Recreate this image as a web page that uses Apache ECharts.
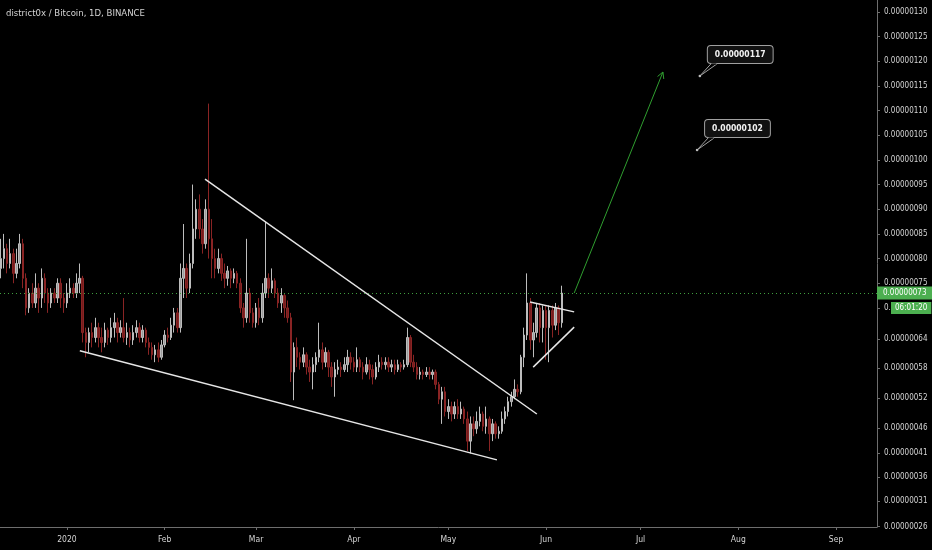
<!DOCTYPE html>
<html><head><meta charset="utf-8">
<script src="https://cdn.jsdelivr.net/npm/echarts@6/dist/echarts.min.js"></script>
<style>html,body{margin:0;padding:0;background:#000;}#chart{width:932px;height:550px;}</style>
</head><body><div id="chart"></div>
<script>
// ---- data (prices in satoshi = 1e-8 BTC) ----
const title = 'district0x / Bitcoin, 1D, BINANCE';
const firstDay = '2019-12-11';
const firstOpen = 78;
const closes = [
  80,82,79,81,77,79,83,76,70,73,
  71,74,72,76,73,71,73,72,75,72,
  71,73,74,73,75,76,65,63,65,64,
  66,64,63,65.5,64,66,67,65,66,64,
  65,63.5,65,66,64,65.5,63,62,60.5,61.5,
  60,62.5,64.5,64,66.5,69,66,76,78,74,
  79,86,90,86,83,90,84,80,78,80,
  77,76,77.5,76,77,75,70,68,73,69,
  67,70,68,73,76,74,75.5,73,71,72.5,
  70,68,57,62,60,59,60.5,58,57,58.5,
  60,61.5,59,61,58,56,57.5,58,57.5,58.5,
  60,59,58,59.5,58,57,58.5,57.5,56,58,
  59,58.5,59,58,58.5,57.5,58.5,58,58.5,64,
  59,58,56.5,57,56.5,57,56.5,57,54.5,51.5,
  53,49,50,48.5,50,48.5,49.5,47.5,43,46.5,
  45.5,47,48.5,46,47.5,44.5,46.5,44.5,45,47.5,
  49,51,52,53.5,53,60,64.5,71,63.5,65,
  70,66,69.5,66,69.5,66.5,70,67,73
];
const highs = [
  84,85,83,84,82,82,85,84,77,74,
  75,77,75,78,77,74,74,74,76,76,
  73,75,76,75,77,79,76.5,66,66,67,
  68,67,66,67,66,68,69,68,67.5,72,
  67,66,66.5,67.5,67,66.5,66,64,63,62.5,
  63,63.5,65.5,66,68,70,70,79,87,79,
  81,95,92,93,88,92,111.4,88,82,82,
  81,79,78.5,78,78,77.5,76,71,84,74,
  70,71,72,75,87.5,77,78,76,74,74,
  73,71.5,69,63,64,61,62,61,59.5,60,
  61,67,63,62,61.5,59,59,59.5,59,60,
  61.5,61,60,62,60,59,60,59.5,58.5,59,
  60.5,60,60,60,59.5,59.5,59.5,59,59.5,66,
  64.5,60.5,59,58,57.5,58,58,57.5,57.5,55,
  54,54,51.5,51,51,51.5,51,50,49,48,
  48,49,50,49,50,48,47.5,47,46,49,
  50,52,53,55.5,54.5,60.5,66,77,72,67,
  71,71,70.5,70.5,70.5,70.5,71,70.5,74.5
];
const lows = [
  76,78,77,78,75,76,78,74,68.5,69,
  70,70,69,70,71,69,70,71,71,70,
  69,70,72,72,72,73,63,60,61,62,
  63,62,61,62,62.5,63,64,63,64,63,
  62.5,62,62.5,64,63,63,62,60.5,59.5,59,
  59,59.5,62,63,63.5,65,65,65,72,72,
  73,78,84,84,81,82,80,76,76,77,
  75.5,74,74.5,74,75,74,69,66,67,67,
  66,66,66.5,67,72,72,73,72,70,69,
  68,67,55,51.3,58,57.5,58,56.5,55,53.5,
  57,59,57.5,58,56,54,52,56.5,56,57,
  57,57.5,57,57,57,55.5,56.5,55.5,54.5,55.5,
  57,57.5,57.5,57,57,56.5,57,57,57.5,58,
  58,57,55.5,55.5,55.5,56,55.5,55.5,53.5,50.5,
  46.5,48,47.5,47,47.5,47.5,47.5,46.5,41,40.5,
  44,44.5,46,45,44.5,41,43,43.5,43.5,44.5,
  46.5,48,50,51.5,52,52.5,58,63.5,61.5,60,
  64,63,63,59.5,59,64,65.5,64.5,66
];
const xRange = ['2019-12-10T18:00', '2020-09-14T00:00'];
const yRange = [25.6, 132.4];
const monthTicks = ['2020-01-01','2020-02-01','2020-03-01','2020-04-01','2020-05-01','2020-06-01','2020-07-01','2020-08-01','2020-09-01'];
const monthLabels = ['2020','Feb','Mar','Apr','May','Jun','Jul','Aug','Sep'];
const priceTicks = [130,125,120,115,110,105,100,95,90,85,80,75,70,63.7,57.8,51.7,45.6,40.6,35.7,30.8,25.7];
const lastPrice = 73;
const countdown = '06:01:20';
const trendLines = [
  [['2020-02-13T19:00', 96.1], ['2020-05-29T02:00', 48.5]],
  [['2020-01-05T02:00', 61.3], ['2020-05-16T10:00', 39.2]],
  [['2020-05-26T22:00', 71.2], ['2020-06-09T22:00', 69.2]],
  [['2020-05-27T22:00', 58.0], ['2020-06-09T22:00', 66.1]]
];
const targetArrow = [['2020-06-09T22:00', 73.0], ['2020-07-08T02:00', 117.8]];
const targets = [['2020-07-19T19:00', 117], ['2020-07-18T22:00', 102]];

// ---- helpers ----
const FONT = "'Liberation Sans Narrow','DejaVu Sans Condensed','Roboto',sans-serif";
function t(s) {
  const [d, h = '00:00'] = s.split('T');
  const [Y, M, D] = d.split('-').map(Number);
  const [hh, mm] = h.split(':').map(Number);
  return Date.UTC(Y, M - 1, D, hh, mm);
}
const fmt = v => (v / 1e8).toFixed(8);
const DAY = 86400000;
const start = t(firstDay);
const candles = closes.map((c, i) => {
  const o = i === 0 ? firstOpen : closes[i - 1];
  return [start + i * DAY, o, c, lows[i], highs[i]];
});
const monthTs = monthTicks.map(t);

const chart = echarts.init(document.getElementById('chart'), null, {renderer: 'canvas'});
chart.setOption({
  backgroundColor: '#000',
  animation: false,
  title: {
    text: title, left: 6, top: 9, padding: 0,
    textStyle: {color: '#d4d4d4', fontSize: 9.5, fontWeight: 'normal', fontFamily: FONT}
  },
  grid: {left: 0, right: 55, top: 0, bottom: 23, containLabel: false, outerBoundsMode: 'none'},
  xAxis: {
    type: 'value', min: t(xRange[0]), max: t(xRange[1]), scale: true,
    splitLine: {show: false},
    axisLine: {show: true, onZero: false, lineStyle: {color: '#6e6e6e', width: 1}},
    axisTick: {show: true, length: 3, customValues: monthTs, lineStyle: {color: '#6e6e6e'}},
    axisLabel: {
      customValues: monthTs, color: '#d4d4d4', fontSize: 8.5, margin: 8, fontFamily: FONT,
      formatter: v => {
        let best = 0, bd = Infinity;
        monthTs.forEach((m, i) => { const d = Math.abs(m - v); if (d < bd) { bd = d; best = i; } });
        return monthLabels[best];
      }
    }
  },
  yAxis: {
    type: 'value', position: 'right', min: yRange[0], max: yRange[1], scale: true,
    splitLine: {show: false},
    axisLine: {show: true, onZero: false, lineStyle: {color: '#6e6e6e', width: 1}},
    axisTick: {show: true, length: 3, customValues: priceTicks, lineStyle: {color: '#6e6e6e'}},
    axisLabel: {customValues: priceTicks, formatter: fmt, color: '#d4d4d4', fontSize: 8, margin: 7, fontFamily: FONT}
  },
  series: [
    {
      type: 'candlestick', data: candles, barWidth: 2,
      itemStyle: {color: '#9c9c9c', color0: '#741c1c', borderColor: '#bdbdbd', borderColor0: '#8a2424', borderWidth: 1},
      markLine: {
        symbol: 'none', silent: true,
        data: [{
          yAxis: lastPrice,
          lineStyle: {color: '#3f9f3f', type: [1, 3], width: 1},
          label: {show: true, position: 'end', distance: 0, formatter: fmt(lastPrice),
            backgroundColor: '#4caf50', color: '#fff', padding: [3, 7, 2, 6], fontSize: 8, fontFamily: FONT}
        }]
      }
    },
    {
      type: 'custom', name: 'trend', silent: true,
      data: trendLines.map(([a, b]) => [t(a[0]), a[1], t(b[0]), b[1]]),
      encode: {x: [0, 2], y: [1, 3]},
      renderItem: (params, api) => {
        const p1 = api.coord([api.value(0), api.value(1)]);
        const p2 = api.coord([api.value(2), api.value(3)]);
        return {type: 'line', shape: {x1: p1[0], y1: p1[1], x2: p2[0], y2: p2[1]},
          style: {stroke: '#e6e6e6', lineWidth: 1.5}};
      },
      z: 5
    },
    {
      type: 'custom', name: 'arrow', silent: true,
      data: [[t(targetArrow[0][0]), targetArrow[0][1], t(targetArrow[1][0]), targetArrow[1][1]]],
      encode: {x: [0, 2], y: [1, 3]},
      renderItem: (params, api) => {
        const p1 = api.coord([api.value(0), api.value(1)]);
        const p2 = api.coord([api.value(2), api.value(3)]);
        const a = Math.atan2(p2[1] - p1[1], p2[0] - p1[0]);
        const L = 7, ph = 0.5;
        const h1 = [p2[0] - L * Math.cos(a - ph), p2[1] - L * Math.sin(a - ph)];
        const h2 = [p2[0] - L * Math.cos(a + ph), p2[1] - L * Math.sin(a + ph)];
        const st = {stroke: '#2f9e2f', lineWidth: 1, fill: null};
        return {type: 'group', children: [
          {type: 'line', shape: {x1: p1[0], y1: p1[1], x2: p2[0], y2: p2[1]}, style: st},
          {type: 'polyline', shape: {points: [h1, p2, h2]}, style: st}
        ]};
      },
      z: 5
    },
    {
      type: 'custom', name: 'targets', silent: true,
      data: targets.map(([d, v]) => [t(d), v]),
      encode: {x: 0, y: 1},
      renderItem: (params, api) => {
        const v = api.value(1);
        const p = api.coord([api.value(0), v]);
        const bx = p[0] + 8, by = p[1] - 30;
        return {type: 'group', children: [
          {type: 'text', x: bx, y: by, z2: 1,
            style: {text: fmt(v), fill: '#f2f2f2', font: "bold 8.5px " + FONT,
              backgroundColor: '#111', borderColor: '#a0a0a0', borderWidth: 1, borderRadius: 3,
              padding: [4, 7, 4, 7], align: 'left', verticalAlign: 'top'}},
          {type: 'polyline', z2: 2, shape: {points: [[bx + 3, by + 18], [p[0], p[1]], [bx + 9, by + 18]]},
            style: {stroke: '#a0a0a0', lineWidth: 1, fill: null}},
          {type: 'line', z2: 2, shape: {x1: bx + 3.5, y1: by + 18, x2: bx + 8.5, y2: by + 18},
            style: {stroke: '#111', lineWidth: 1.2}},
          {type: 'circle', z2: 3, shape: {cx: p[0], cy: p[1], r: 1.3}, style: {fill: '#bdbdbd'}}
        ]};
      },
      z: 6
    }
  ]
});

// countdown tag below the last-price tag on the price scale
const pp = chart.convertToPixel({gridIndex: 0}, [t(xRange[1]), lastPrice]);
chart.setOption({
  graphic: [{
    type: 'text', x: pp[0] + 14, y: pp[1] + 9, z: 100,
    style: {text: countdown, fill: '#fff', backgroundColor: '#4caf50', padding: [2, 4, 2, 4],
      font: '8px ' + FONT, align: 'left', verticalAlign: 'top'}
  }]
});
</script>
</body></html>
